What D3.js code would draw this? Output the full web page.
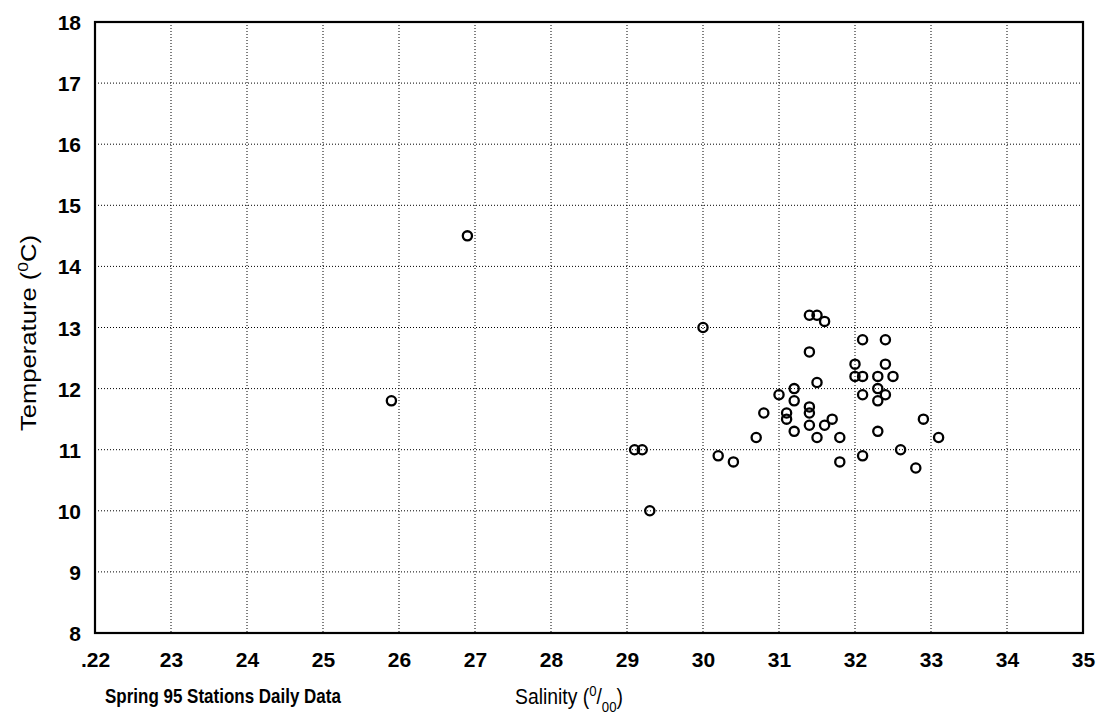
<!DOCTYPE html>
<html><head><meta charset="utf-8">
<script src="https://cdn.jsdelivr.net/npm/d3@7"></script>
<style>body{margin:0;background:#fff}svg{display:block}text{font-family:"Liberation Sans",Arial,sans-serif;fill:#000}</style>
</head><body><svg id="c" width="1101" height="722"></svg>
<script>
const salinity = [26.9,25.9,29.1,29.2,29.3,30.0,31.4,31.5,31.6,32.1,32.4,31.4,32.0,32.4,32.0,32.1,32.3,32.5,31.5,31.2,32.3,31.0,32.1,32.4,31.2,32.3,31.4,31.4,30.8,31.1,31.1,31.7,32.9,31.4,31.6,31.2,32.3,30.7,31.5,31.8,33.1,32.6,30.2,32.1,30.4,31.8,32.8];
const temperature = [14.5,11.8,11.0,11.0,10.0,13.0,13.2,13.2,13.1,12.8,12.8,12.6,12.4,12.4,12.2,12.2,12.2,12.2,12.1,12.0,12.0,11.9,11.9,11.9,11.8,11.8,11.7,11.6,11.6,11.6,11.5,11.5,11.5,11.4,11.4,11.3,11.3,11.2,11.2,11.2,11.2,11.0,10.9,10.9,10.8,10.8,10.7];
const xTicks = [22,23,24,25,26,27,28,29,30,31,32,33,34,35];
const xTickLabels = [".22","23","24","25","26","27","28","29","30","31","32","33","34","35"];
const yTicks = [8,9,10,11,12,13,14,15,16,17,18];

const svg = d3.select("#c");
const L=95,R=1083,T=22,B=633;
const x = d3.scaleLinear().domain([22,35]).range([L,R]);
const y = d3.scaleLinear().domain([8,18]).range([B,T]);

// grid
const g = svg.append("g");
g.selectAll(".vg").data(xTicks.slice(1,-1)).enter().append("line")
 .attr("x1",d=>x(d)).attr("x2",d=>x(d)).attr("y1",T).attr("y2",B)
 .attr("stroke","#000").attr("stroke-width",1).attr("stroke-dasharray","1,2");
g.selectAll(".hg").data(yTicks.slice(1,-1)).enter().append("line")
 .attr("y1",d=>y(d)).attr("y2",d=>y(d)).attr("x1",L).attr("x2",R)
 .attr("stroke","#000").attr("stroke-width",1).attr("stroke-dasharray","1,2");

// axes
const xa = svg.append("g").attr("transform",`translate(0,${B})`)
 .call(d3.axisBottom(x).tickValues(xTicks).tickFormat((d,i)=>xTickLabels[i]).tickSize(0).tickPadding(34));
const ya = svg.append("g").attr("transform",`translate(${L},0)`)
 .call(d3.axisLeft(y).tickValues(yTicks).tickFormat(d3.format("d")).tickSize(0).tickPadding(14));
[xa,ya].forEach(a=>{a.select(".domain").remove();a.selectAll("text").attr("font-size",21).attr("font-weight","bold").attr("font-family","Liberation Sans, Arial, sans-serif");});
xa.selectAll("text").attr("dy","0");
ya.selectAll("text").attr("dy","0.36em");

svg.append("rect").attr("x",L).attr("y",T).attr("width",R-L).attr("height",B-T)
 .attr("fill","none").attr("stroke","#000").attr("stroke-width",2.2);

// points
svg.append("g").selectAll("circle").data(salinity).enter().append("circle")
 .attr("cx",(d)=>x(d)).attr("cy",(d,i)=>y(temperature[i])).attr("r",4.6)
 .attr("fill","none").attr("stroke","#000").attr("stroke-width",2.3);

function fitX(sel, x0, y0, targetW){
  const w = sel.node().getComputedTextLength();
  sel.attr("transform",`translate(${x0},${y0}) scale(${targetW/w},1)`);
}

// titles
const yt = svg.append("text").attr("text-anchor","middle").attr("font-size",22);
yt.append("tspan").text("Temperature (");
yt.append("tspan").attr("baseline-shift","super").attr("font-size",15).text("0");
yt.append("tspan").text("C)");
{ const w = yt.node().getComputedTextLength();
  yt.attr("transform",`translate(36,333) rotate(-90) scale(${196/w},1)`); }

const ft = svg.append("text").attr("font-size",20).attr("font-weight","bold").text("Spring 95 Stations Daily Data");
fitX(ft,105,703,236);

const xt = svg.append("text").attr("font-size",22);
xt.append("tspan").text("Salinity (");
xt.append("tspan").attr("baseline-shift","super").attr("font-size",15).text("0");
xt.append("tspan").text("/");
xt.append("tspan").attr("baseline-shift","sub").attr("font-size",15).text("00");
xt.append("tspan").text(")");
fitX(xt,515,704,108);
</script></body></html>
